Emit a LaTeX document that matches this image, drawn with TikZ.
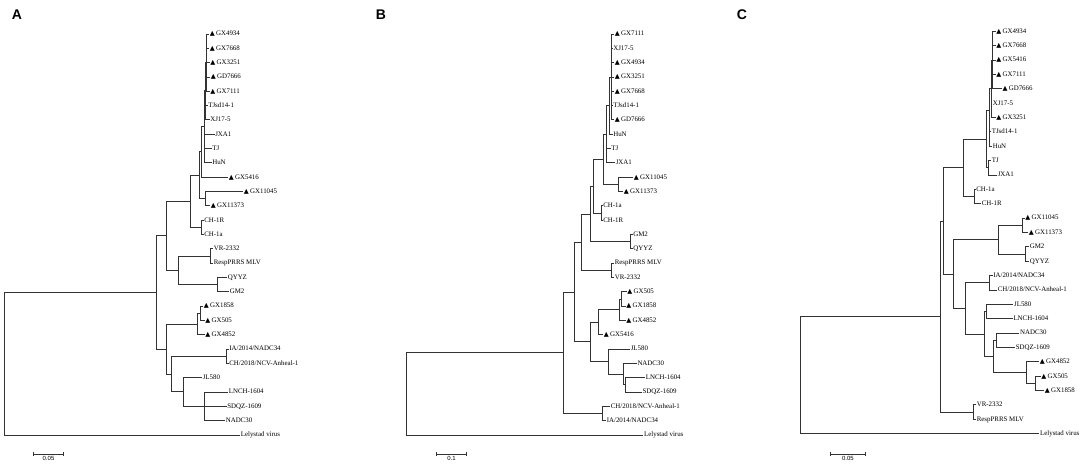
\documentclass[tikz,border=0pt]{standalone}
\usepackage{fontspec}
\setmainfont{Liberation Serif}
\newfontfamily\panelfont{Liberation Sans}
\newfontfamily\symfont{DejaVu Sans}
\usetikzlibrary{positioning, arrows.meta}
\newcommand{\tri}{{\symfont\fontsize{6.5}{7}\selectfont ▲}\hspace{1.3pt}}
\tikzstyle{leaf} = [anchor = west, inner sep = 0.6, text height = 5,
  text depth = 1.3, font = \fontsize{6.9}{8}\selectfont]
\tikzstyle{branch} = [draw = black!80, line width = 0.85]
\tikzstyle{panel} = [font = \panelfont\bfseries\fontsize{14}{16}\selectfont]
\tikzstyle{scalebar} = [draw = black!80, line width = 0.85,
  {Bar[width = 3.5pt]}-{Bar[width = 3.5pt]}]
\tikzstyle{barlabel} = [inner sep = 0.5, font = \panelfont\fontsize{6}{7}\selectfont]

\begin{document}
\begin{tikzpicture}[x = 1pt, y = -1pt]
  \useasboundingbox (0, 0) rectangle (1084, 470);
  % panel letters
  \node [panel] (lab-a) at (17, 15) {A};
  \node [panel] (lab-b) at (381, 15) {B};
  \node [panel] (lab-c) at (742, 15) {C};

  % ---------------- tree A ----------------
  \node [leaf] (a-gx4934) at (209, 34.0) {\tri GX4934};
  \node [leaf] (a-gx7668) at (209, 48.3) {\tri GX7668};
  \node [leaf] (a-gx3251) at (209.5, 62.6) {\tri GX3251};
  \node [leaf] (a-gd7666) at (210, 77.0) {\tri GD7666};
  \node [leaf] (a-gx7111) at (209.5, 91.3) {\tri GX7111};
  \node [leaf] (a-tjsd) at (207.5, 105.6) {TJsd14-1};
  \node [leaf] (a-xj17) at (209.5, 119.9) {XJ17-5};
  \node [leaf] (a-jxa1) at (214.5, 134.2) {JXA1};
  \node [leaf] (a-tj) at (211.5, 148.6) {TJ};
  \node [leaf] (a-hun) at (211.5, 162.9) {HuN};
  \node [leaf] (a-gx5416) at (228, 177.2) {\tri GX5416};
  \node [leaf] (a-gx11045) at (243, 191.5) {\tri GX11045};
  \node [leaf] (a-gx11373) at (210, 205.8) {\tri GX11373};
  \node [leaf] (a-ch1r) at (203.5, 220.2) {CH-1R};
  \node [leaf] (a-ch1a) at (203.5, 234.5) {CH-1a};
  \node [leaf] (a-vr2332) at (213, 248.8) {VR-2332};
  \node [leaf] (a-resp) at (213, 263.1) {RespPRRS MLV};
  \node [leaf] (a-qyyz) at (227, 277.4) {QYYZ};
  \node [leaf] (a-gm2) at (229, 291.8) {GM2};
  \node [leaf] (a-gx1858) at (203, 306.1) {\tri GX1858};
  \node [leaf] (a-gx505) at (204.5, 320.4) {\tri GX505};
  \node [leaf] (a-gx4852) at (204.5, 334.7) {\tri GX4852};
  \node [leaf] (a-ia) at (228.5, 349.0) {IA/2014/NADC34};
  \node [leaf] (a-ch18) at (228.5, 363.4) {CH/2018/NCV-Anheal-1};
  \node [leaf] (a-jl580) at (202, 377.7) {JL580};
  \node [leaf] (a-lnch) at (228, 392.0) {LNCH-1604};
  \node [leaf] (a-sdqz) at (226.5, 406.3) {SDQZ-1609};
  \node [leaf] (a-nadc30) at (225, 420.6) {NADC30};
  \node [leaf] (a-lely) at (240, 435.0) {Lelystad virus};

  \coordinate (a-root) at (4, 363.7);
  \coordinate (a-n1) at (156, 292.4);
  \coordinate (a-n2) at (166, 235.8);
  \coordinate (a-u1) at (190, 201.3);
  \coordinate (a-u2) at (199.3, 175.2);
  \coordinate (a-u3) at (201.7, 151.7);
  \coordinate (a-u4) at (204, 126.7);
  \coordinate (a-u5) at (205.5, 90);
  \coordinate (a-gx) at (206.7, 62.6);
  \coordinate (a-gx11) at (205, 198.7);
  \coordinate (a-ch) at (201.7, 227.3);
  \coordinate (a-v1) at (178.3, 270.3);
  \coordinate (a-vrn) at (210, 256);
  \coordinate (a-qy) at (217.3, 284.6);
  \coordinate (a-n3) at (166, 349);
  \coordinate (a-gxa) at (197, 324);
  \coordinate (a-gxb) at (200, 313.2);
  \coordinate (a-n4) at (171, 374);
  \coordinate (a-iach) at (226, 356.2);
  \coordinate (a-n5) at (183.3, 391.7);
  \coordinate (a-nd) at (204.3, 406.3);

  \foreach \p/\c in {a-root/a-n1, a-root/a-lely, a-n1/a-n2, a-n1/a-n3,
      a-n2/a-u1, a-n2/a-v1, a-u1/a-u2, a-u1/a-ch, a-u2/a-u3, a-u2/a-gx11,
      a-u3/a-u4, a-u3/a-gx5416, a-u4/a-u5, a-u4/a-jxa1, a-u4/a-tj, a-u4/a-hun,
      a-u5/a-gx, a-u5/a-tjsd, a-u5/a-xj17, a-gx/a-gx4934, a-gx/a-gx7668,
      a-gx/a-gx3251, a-gx/a-gd7666, a-gx/a-gx7111, a-gx11/a-gx11045,
      a-gx11/a-gx11373, a-ch/a-ch1r, a-ch/a-ch1a, a-v1/a-vrn, a-v1/a-qy,
      a-vrn/a-vr2332, a-vrn/a-resp, a-qy/a-qyyz, a-qy/a-gm2, a-n3/a-gxa,
      a-n3/a-n4, a-gxa/a-gxb, a-gxa/a-gx4852, a-gxb/a-gx1858, a-gxb/a-gx505,
      a-n4/a-iach, a-n4/a-n5, a-iach/a-ia, a-iach/a-ch18, a-n5/a-jl580,
      a-n5/a-nd, a-nd/a-lnch, a-nd/a-sdqz, a-nd/a-nadc30}
    \draw [branch] (\p) |- (\c);

  \coordinate (a-bar-l) at (33, 454);
  \coordinate (a-bar-r) at (64, 454);
  \draw [scalebar] (a-bar-l) -- (a-bar-r)
    node [barlabel, midway, below = 1.5pt] (a-bar-t) {0.05};

  % ---------------- tree B ----------------
  \node [leaf] (b-gx7111) at (614, 34.0) {\tri GX7111};
  \node [leaf] (b-xj17) at (612.5, 48.3) {XJ17-5};
  \node [leaf] (b-gx4934) at (614, 62.6) {\tri GX4934};
  \node [leaf] (b-gx3251) at (614, 77.0) {\tri GX3251};
  \node [leaf] (b-gx7668) at (614, 91.3) {\tri GX7668};
  \node [leaf] (b-tjsd) at (612.5, 105.6) {TJsd14-1};
  \node [leaf] (b-gd7666) at (614, 119.9) {\tri GD7666};
  \node [leaf] (b-hun) at (612.5, 134.2) {HuN};
  \node [leaf] (b-tj) at (610.5, 148.6) {TJ};
  \node [leaf] (b-jxa1) at (615, 162.9) {JXA1};
  \node [leaf] (b-gx11045) at (633, 177.2) {\tri GX11045};
  \node [leaf] (b-gx11373) at (623, 191.5) {\tri GX11373};
  \node [leaf] (b-ch1a) at (602.5, 205.8) {CH-1a};
  \node [leaf] (b-ch1r) at (602.5, 220.2) {CH-1R};
  \node [leaf] (b-gm2) at (632.5, 234.5) {GM2};
  \node [leaf] (b-qyyz) at (632.5, 248.8) {QYYZ};
  \node [leaf] (b-resp) at (614, 263.1) {RespPRRS MLV};
  \node [leaf] (b-vr2332) at (614, 277.4) {VR-2332};
  \node [leaf] (b-gx505) at (626.5, 291.8) {\tri GX505};
  \node [leaf] (b-gx1858) at (625.5, 306.1) {\tri GX1858};
  \node [leaf] (b-gx4852) at (625.5, 320.4) {\tri GX4852};
  \node [leaf] (b-gx5416) at (603, 334.7) {\tri GX5416};
  \node [leaf] (b-jl580) at (630, 349.0) {JL580};
  \node [leaf] (b-nadc30) at (636.7, 363.4) {NADC30};
  \node [leaf] (b-lnch) at (645, 377.7) {LNCH-1604};
  \node [leaf] (b-sdqz) at (641.7, 392.0) {SDQZ-1609};
  \node [leaf] (b-ch18) at (610, 406.3) {CH/2018/NCV-Anheal-1};
  \node [leaf] (b-ia) at (606, 420.6) {IA/2014/NADC34};
  \node [leaf] (b-lely) at (643.3, 435.0) {Lelystad virus};

  \coordinate (b-root) at (406, 393.9);
  \coordinate (b-n1) at (563.3, 352.7);
  \coordinate (b-n2) at (574.3, 292);
  \coordinate (b-n3) at (581.7, 242);
  \coordinate (b-n4) at (590, 214);
  \coordinate (b-n5) at (593.3, 186);
  \coordinate (b-n6) at (603.3, 159);
  \coordinate (b-n7) at (606.7, 134);
  \coordinate (b-n8) at (609.3, 105.6);
  \coordinate (b-n9) at (611.7, 77);
  \coordinate (b-gx11) at (618.3, 184.4);
  \coordinate (b-ch) at (601, 213);
  \coordinate (b-gm) at (630, 241.7);
  \coordinate (b-vrn) at (611.7, 270.2);
  \coordinate (b-g4) at (590.7, 341.9);
  \coordinate (b-g3) at (598.3, 322.2);
  \coordinate (b-g2) at (619.3, 309.7);
  \coordinate (b-g1) at (621.7, 299);
  \coordinate (b-jl) at (608.3, 361.6);
  \coordinate (b-na) at (623.3, 374.1);
  \coordinate (b-ln) at (625, 384.9);
  \coordinate (b-iach) at (602.7, 413.5);

  \foreach \p/\c in {b-root/b-n1, b-root/b-lely, b-n1/b-n2, b-n1/b-iach,
      b-n2/b-n3, b-n2/b-g4, b-n3/b-n4, b-n3/b-vrn, b-n4/b-n5, b-n4/b-gm,
      b-n5/b-n6, b-n5/b-ch, b-n6/b-n7, b-n6/b-gx11, b-n7/b-n8, b-n7/b-tj,
      b-n7/b-jxa1, b-n8/b-n9, b-n8/b-hun, b-n9/b-gx7111, b-n9/b-xj17,
      b-n9/b-gx4934, b-n9/b-gx3251, b-n9/b-gx7668, b-n9/b-tjsd, b-n9/b-gd7666,
      b-gx11/b-gx11045, b-gx11/b-gx11373, b-ch/b-ch1a, b-ch/b-ch1r,
      b-gm/b-gm2, b-gm/b-qyyz, b-vrn/b-resp, b-vrn/b-vr2332, b-g4/b-g3,
      b-g4/b-jl, b-g3/b-g2, b-g3/b-gx5416, b-g2/b-g1, b-g2/b-gx4852,
      b-g1/b-gx505, b-g1/b-gx1858, b-jl/b-jl580, b-jl/b-na, b-na/b-nadc30,
      b-na/b-ln, b-ln/b-lnch, b-ln/b-sdqz, b-iach/b-ch18, b-iach/b-ia}
    \draw [branch] (\p) |- (\c);

  \coordinate (b-bar-l) at (436, 454);
  \coordinate (b-bar-r) at (467.3, 454);
  \draw [scalebar] (b-bar-l) -- (b-bar-r)
    node [barlabel, midway, below = 1.5pt] (b-bar-t) {0.1};

  % ---------------- tree C ----------------
  \node [leaf] (c-gx4934) at (995.5, 31.3) {\tri GX4934};
  \node [leaf] (c-gx7668) at (995.5, 45.7) {\tri GX7668};
  \node [leaf] (c-gx5416) at (995.5, 60.0) {\tri GX5416};
  \node [leaf] (c-gx7111) at (995.5, 74.4) {\tri GX7111};
  \node [leaf] (c-gd7666) at (1001.7, 88.8) {\tri GD7666};
  \node [leaf] (c-xj17) at (992, 103.2) {XJ17-5};
  \node [leaf] (c-gx3251) at (995.5, 117.5) {\tri GX3251};
  \node [leaf] (c-tjsd) at (991, 131.9) {TJsd14-1};
  \node [leaf] (c-hun) at (992, 146.3) {HuN};
  \node [leaf] (c-tj) at (991, 160.6) {TJ};
  \node [leaf] (c-jxa1) at (997, 175.0) {JXA1};
  \node [leaf] (c-ch1a) at (975.5, 189.4) {CH-1a};
  \node [leaf] (c-ch1r) at (981, 203.7) {CH-1R};
  \node [leaf] (c-gx11045) at (1024.5, 218.1) {\tri GX11045};
  \node [leaf] (c-gx11373) at (1028, 232.5) {\tri GX11373};
  \node [leaf] (c-gm2) at (1029, 246.9) {GM2};
  \node [leaf] (c-qyyz) at (1029, 261.2) {QYYZ};
  \node [leaf] (c-ia) at (992.5, 275.6) {IA/2014/NADC34};
  \node [leaf] (c-ch18) at (997, 290.0) {CH/2018/NCV-Anheal-1};
  \node [leaf] (c-jl580) at (1013.3, 304.3) {JL580};
  \node [leaf] (c-lnch) at (1012.7, 318.7) {LNCH-1604};
  \node [leaf] (c-nadc30) at (1019.3, 333.1) {NADC30};
  \node [leaf] (c-sdqz) at (1015, 347.4) {SDQZ-1609};
  \node [leaf] (c-gx4852) at (1039, 361.8) {\tri GX4852};
  \node [leaf] (c-gx505) at (1040.5, 376.2) {\tri GX505};
  \node [leaf] (c-gx1858) at (1044, 390.6) {\tri GX1858};
  \node [leaf] (c-vr2332) at (976, 404.9) {VR-2332};
  \node [leaf] (c-resp) at (976, 419.3) {RespPRRS MLV};
  \node [leaf] (c-lely) at (1039.3, 433.7) {Lelystad virus};

  \coordinate (c-root) at (800, 375.1);
  \coordinate (c-n1) at (940, 316.5);
  \coordinate (c-n2) at (943.3, 221);
  \coordinate (c-n3) at (963.3, 167.8);
  \coordinate (c-top) at (986.5, 139);
  \coordinate (c-t2) at (989.5, 110);
  \coordinate (c-t3) at (991, 88);
  \coordinate (c-gxa) at (992.7, 60);
  \coordinate (c-tjn) at (988.5, 167.8);
  \coordinate (c-ch) at (974, 196.5);
  \coordinate (c-n4) at (953.3, 274);
  \coordinate (c-mid) at (998.3, 239.7);
  \coordinate (c-gx11) at (1022, 225.3);
  \coordinate (c-gm) at (1025, 254);
  \coordinate (c-n5) at (965, 308.4);
  \coordinate (c-iach) at (989.3, 282.8);
  \coordinate (c-n6) at (984, 334);
  \coordinate (c-jl) at (986.5, 311.5);
  \coordinate (c-n7) at (993.3, 356.5);
  \coordinate (c-na) at (996, 340.3);
  \coordinate (c-gx) at (1026.7, 372.6);
  \coordinate (c-gx2) at (1035, 383.4);
  \coordinate (c-vrn) at (973.3, 412.1);

  \foreach \p/\c in {c-root/c-n1, c-root/c-lely, c-n1/c-n2, c-n1/c-vrn,
      c-n2/c-n3, c-n2/c-n4, c-n3/c-top, c-n3/c-ch, c-top/c-t2, c-top/c-tjn,
      c-t2/c-t3, c-t2/c-tjsd, c-t2/c-hun, c-t3/c-gxa, c-t3/c-xj17,
      c-t3/c-gx3251, c-gxa/c-gx4934, c-gxa/c-gx7668, c-gxa/c-gx5416,
      c-gxa/c-gx7111, c-gxa/c-gd7666, c-tjn/c-tj, c-tjn/c-jxa1, c-ch/c-ch1a,
      c-ch/c-ch1r, c-n4/c-mid, c-n4/c-n5, c-mid/c-gx11, c-mid/c-gm,
      c-gx11/c-gx11045, c-gx11/c-gx11373, c-gm/c-gm2, c-gm/c-qyyz,
      c-n5/c-iach, c-n5/c-n6, c-iach/c-ia, c-iach/c-ch18, c-n6/c-jl,
      c-n6/c-n7, c-jl/c-jl580, c-jl/c-lnch, c-n7/c-na, c-n7/c-gx,
      c-na/c-nadc30, c-na/c-sdqz, c-gx/c-gx4852, c-gx/c-gx2,
      c-gx2/c-gx505, c-gx2/c-gx1858, c-vrn/c-vr2332, c-vrn/c-resp}
    \draw [branch] (\p) |- (\c);

  \coordinate (c-bar-l) at (830, 454);
  \coordinate (c-bar-r) at (865.7, 454);
  \draw [scalebar] (c-bar-l) -- (c-bar-r)
    node [barlabel, midway, below = 1.5pt] (c-bar-t) {0.05};
\end{tikzpicture}
\end{document}
